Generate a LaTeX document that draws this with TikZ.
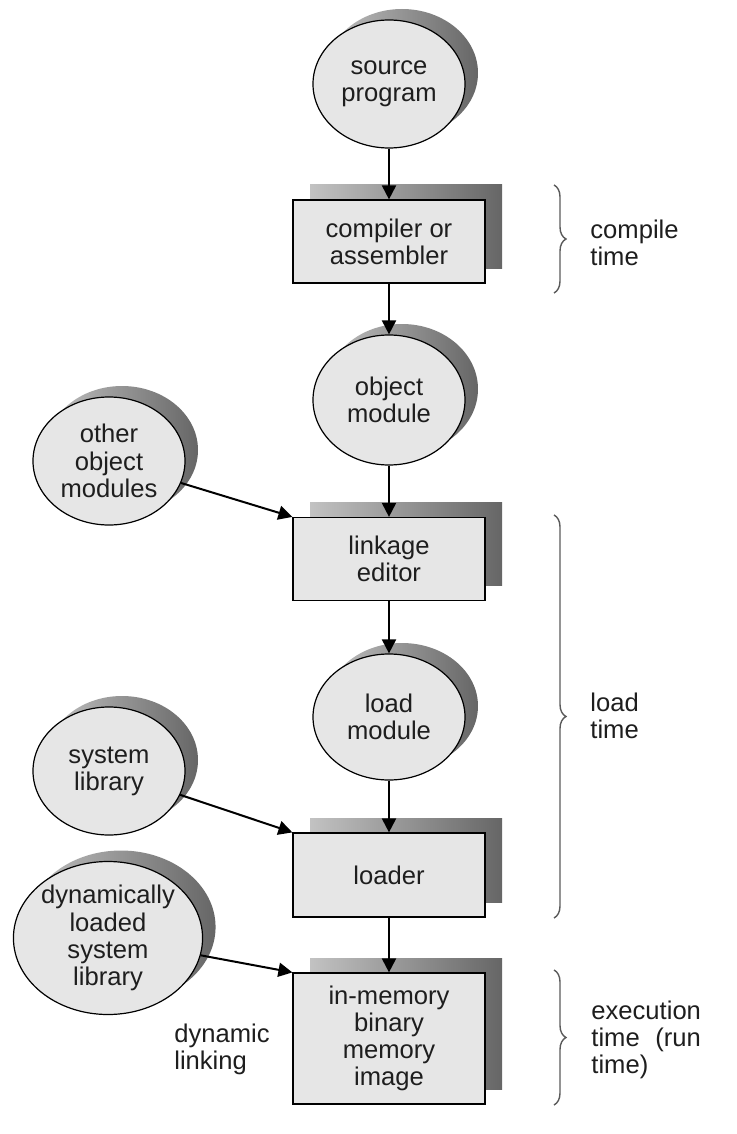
\documentclass[tikz,border=0pt]{standalone}
\usepackage{fontspec}
\setmainfont{Liberation Sans}
\usetikzlibrary{arrows.meta, positioning, shapes.geometric, shadows, decorations.pathreplacing}
\definecolor{BodyFill}{HTML}{E6E6E6}
\definecolor{ShadeLite}{HTML}{C2C2C2}
\definecolor{ShadeDark}{HTML}{666666}
\definecolor{BraceInk}{HTML}{5A5A5A}
\definecolor{TextInk}{HTML}{1E1E1E}

\begin{document}
\begin{tikzpicture}[
    x=0.5pt, y=-0.5pt,
    font=\fontsize{12.8}{13.6}\selectfont,
    text=TextInk,
    blob/.style={
      ellipse,
      draw,
      line width=0.6pt,
      fill=BodyFill,
      inner sep=0pt,
      minimum width=76pt,
      minimum height=64pt,
      align=center,
      general shadow={shadow xshift=6.5pt, shadow yshift=5.5pt,
        left color=ShadeLite, right color=ShadeDark},
    },
    stage/.style={
      rectangle,
      draw,
      line width=0.6pt,
      fill=BodyFill,
      minimum width=96pt,
      minimum height=41.5pt,
      align=center,
      general shadow={shadow xshift=8.5pt, shadow yshift=7.5pt,
        left color=ShadeLite, right color=ShadeDark},
    },
    flow/.style={-{Triangle[length=7pt,width=7pt]}, line width=1pt},
    span/.style={decorate, decoration={brace, amplitude=6pt},
      draw=BraceInk, line width=0.7pt},
    note/.style={align=left, anchor=west, inner sep=0pt},
  ]
    \useasboundingbox (0,0) rectangle (736,1134);

    % main column
    \node[blob] (src) at (389,84) {source\\program};
    \node[stage] (cmp) at (389,241.5) {compiler or\\assembler};
    \node[blob, minimum height=65pt] (obj) at (389,400) {object\\module};
    \node[stage] (lnk) at (389,559) {linkage\\editor};
    \node[blob, minimum height=63pt] (lmod) at (389,717) {load\\module};
    \node[stage, minimum height=42pt] (ldr) at (389,875) {loader};
    \node[stage, minimum height=65.5pt] (img) at (389,1038.5)
      {in-memory\\binary\\memory\\image};

    % side inputs
    \node[blob] (oth) at (109,461) {other\\object\\modules};
    \node[blob] (sys) at (109,771) {system\\library};
    \node[blob, minimum width=91.5pt, minimum height=76.5pt] (dyn) at (108,938)
      {dynamically\\loaded\\system\\library};
    \node[note, anchor=center] (dl) at (222,1049) {dynamic\\linking};

    \draw[flow] (src) -- (cmp);
    \draw[flow] (cmp) -- (obj);
    \draw[flow] (obj) -- (lnk);
    \draw[flow] (lnk) -- (lmod);
    \draw[flow] (lmod) -- (ldr);
    \draw[flow] (ldr) -- (img);
    \draw[flow] (oth) -- (lnk.north west);
    \draw[flow] (sys) -- (ldr.north west);
    \draw[flow] (dyn) -- (img.north west);

    % time braces
    \draw[span] (554,185) -- (554,293);
    \draw[span] (554,515) -- (554,918);
    \draw[span] (554,970) -- (554,1105);
    \node[note] (tc) at (590,243) {compile\\time};
    \node[note] (tl) at (590,716) {load\\time};
    \node[note] (te) at (591,1040)
      {execution\\time\hspace{0.61em}(run\\time)};
  \end{tikzpicture}
\end{document}
